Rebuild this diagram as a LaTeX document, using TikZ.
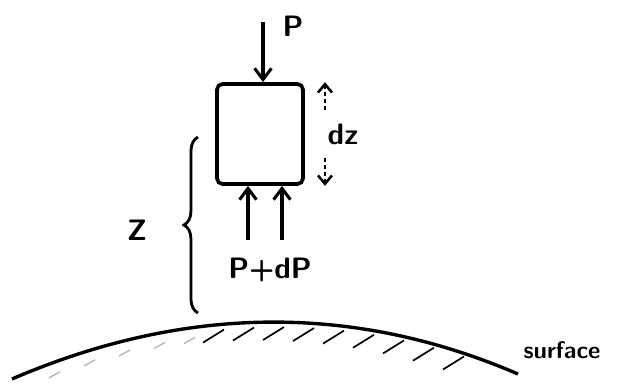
\documentclass[tikz,border=0pt]{standalone}
\usepackage{tikz}
\usepackage{xcolor}
\usetikzlibrary{arrows.meta, positioning, decorations.pathreplacing}

\begin{document}
\begin{tikzpicture}[
    x=0.025cm, y=-0.025cm,
    slab/.style = {
        rectangle,
        rounded corners=4pt,
        minimum width=2.15cm,
        minimum height=2.5cm,
        draw,
        line width=2.6pt
    },
    force/.style = {-{Straight Barb[length=8pt,width=12pt]}, line width=2.2pt},
    small/.style = {-{Straight Barb[length=6pt,width=10pt]}, line width=1.8pt,
        dash pattern=on 2.5pt off 2.5pt},
    lbl/.style = {font=\fontsize{21}{24}\selectfont\sffamily\bfseries},
    ground/.style = {line width=2.4pt},
    hatch/.style = {line width=1.2pt},
    faint/.style = {line width=0.9pt, gray!60}
]
\useasboundingbox (0,0) rectangle (620,386);

%% Slab element
\node[slab] (el) at (260,134) {};

%% Load on top
\coordinate (ptop) at (263,22);
\draw[force] (ptop) -- (el.north -| ptop);
\node[lbl] (p) at (293,26) {P};

%% Load from below
\coordinate (b1) at (248,240);
\coordinate (b2) at (282,240);
\draw[force] (b1) -- (el.south -| b1);
\draw[force] (b2) -- (el.south -| b2);
\node[lbl] (pdp) at (270,270) {P+dP};

%% Thickness dz
\coordinate (dzhi) at (325,110);
\coordinate (dzlo) at (325,158);
\node[lbl] (dz) at (343,134) {dz};
\draw[small] (dzhi) -- (el.north -| dzhi);
\draw[small] (dzlo) -- (el.south -| dzlo);

%% Depth z
\coordinate (zlo) at (198,313);
\coordinate (zhi) at (198,137);
\draw[decorate, decoration={brace, amplitude=10pt}, line width=2pt] (zlo) -- (zhi);
\node[lbl] (z) at (137,230) {Z};

%% Surface
\coordinate (sl) at (12,379);
\coordinate (sr) at (518,374);
\draw[ground] (sl) .. controls (184,305) and (353,303) .. (sr);
\foreach \hx in {215,245,275,305,335,365,395,425,455}
    \draw[hatch] ({\hx-12},{322+56*((\hx-270)/255)^2+18}) -- ({\hx+9},{322+56*((\hx-270)/255)^2+5});
\foreach \hx in {55,90,125,160,190}
    \draw[faint] ({\hx-6},{322+56*((\hx-270)/255)^2+16}) -- ({\hx+5},{322+56*((\hx-270)/255)^2+10});
\node[font=\fontsize{17}{19}\selectfont\sffamily\bfseries] (surf) at (562,350) {surface};

\end{tikzpicture}
\end{document}
